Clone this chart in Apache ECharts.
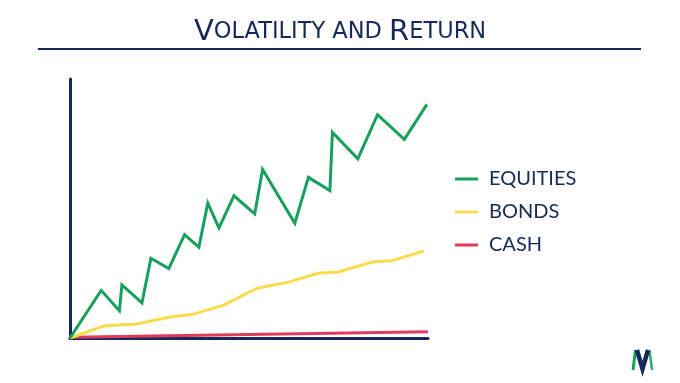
<!DOCTYPE html>
<html><head><meta charset="utf-8">
<script src="https://cdn.jsdelivr.net/npm/echarts@6/dist/echarts.min.js"></script>
<style>html,body{margin:0;padding:0;background:#fff}#c{width:680px;height:383px}</style>
</head><body><div id="c"></div>
<script>
// Data: [time, value] in a 0–100 relative scale
const seriesNames = ['EQUITIES', 'BONDS', 'CASH'];
const equities = [[0,0],[8.7,18.4],[13.8,10.5],[14.5,20.5],[20.1,13.6],[22.6,30.8],[27.6,26.8],[32.0,39.9],[36.0,35.1],[38.5,52.1],[41.6,42.5],[45.8,54.9],[51.6,47.9],[53.8,65.1],[62.8,44.3],[66.6,62.0],[72.6,56.9],[73.3,79.4],[80.4,69.2],[85.9,86.2],[93.4,76.7],[99.7,90.2]];
const bonds = [[0,0],[9.3,4.6],[18.6,5.4],[27.9,8.1],[34.4,9.2],[42.8,12.6],[52.2,19.2],[60.5,21.4],[69.4,25.0],[74.9,25.5],[84.3,29.3],[89.8,29.8],[98.8,33.6]];
const cash = [[0,0.3],[100,2.4]];

const NAVY = '#17295a';
const GREEN = '#17a05d';
const colors = [GREEN, '#f8dc4c', '#e23b5c'];

const chart = echarts.init(document.getElementById('c'), null, {renderer:'canvas'});
chart.setOption({
  backgroundColor: '#fff',
  animation: false,
  color: colors,
  title: {
    text: '{a|V}{b|OLATILITY AND }{a|R}{b|ETURN}',
    left: 'center', top: 13,
    textStyle: {
      rich: {
        a: {fontSize: 29, fontFamily: 'DejaVu Sans', color: NAVY, fontWeight: 'normal'},
        b: {fontSize: 22.5, fontFamily: 'DejaVu Sans', color: NAVY, fontWeight: 'normal'}
      }
    }
  },
  graphic: [
    {type: 'line', shape: {x1: 38, y1: 49, x2: 641, y2: 49}, style: {stroke: NAVY, lineWidth: 2}},
    {type: 'polyline', shape: {points: [[633,370],[635.5,350]]}, style: {stroke: GREEN, lineWidth: 3, fill: null}},
    {type: 'polyline', shape: {points: [[649.5,350],[652,370]]}, style: {stroke: '#2bab72', lineWidth: 2.5, fill: null}},
    {type: 'polyline', shape: {points: [[637,350],[642.5,369],[648,350]]}, style: {stroke: NAVY, lineWidth: 4.5, fill: null, lineJoin: 'miter'}}
  ],
  legend: {
    orient: 'vertical', left: 455, top: 169, padding: 0,
    icon: 'rect', itemWidth: 23, itemHeight: 3, itemGap: 13,
    data: seriesNames,
    textStyle: {fontSize: 20, fontFamily: 'Lato', color: NAVY, padding: [0,0,0,6]}
  },
  grid: {left: 70, right: 252, top: 79, bottom: 45},
  xAxis: {type: 'value', min: 0, max: 100, axisLine: {show: true, onZero: false, lineStyle: {color: NAVY, width: 3}},
    axisTick: {show: false}, axisLabel: {show: false}, splitLine: {show: false}},
  yAxis: {type: 'value', min: 0, max: 100, axisLine: {show: true, lineStyle: {color: NAVY, width: 3}},
    axisTick: {show: false}, axisLabel: {show: false}, splitLine: {show: false}},
  series: [
    {name: seriesNames[0], type: 'line', data: equities, showSymbol: false, symbol: 'none', lineStyle: {width: 3, join: 'miter'}, z: 3},
    {name: seriesNames[1], type: 'line', data: bonds, showSymbol: false, symbol: 'none', lineStyle: {width: 3}, z: 2},
    {name: seriesNames[2], type: 'line', data: cash, showSymbol: false, symbol: 'none', lineStyle: {width: 3}, z: 1}
  ]
});
</script></body></html>
